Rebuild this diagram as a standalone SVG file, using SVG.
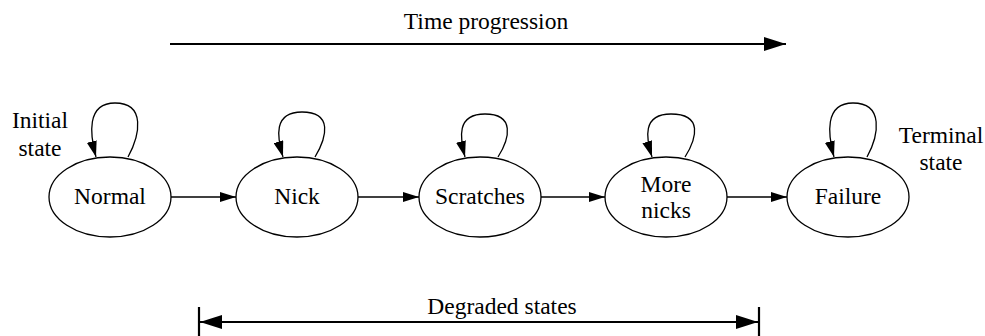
<svg xmlns="http://www.w3.org/2000/svg" width="985" height="336" viewBox="0 0 985 336">
  <style>
    .state { fill: #ffffff; stroke: #000000; stroke-width: 1.3; }
    .label { font-family: "Liberation Serif", "Times New Roman", "DejaVu Serif", serif; font-size: 23.5px; fill: #000000; text-anchor: middle; }
    .edge { fill: none; stroke: #000000; stroke-width: 1.3; }
    .axis { fill: none; stroke: #000000; stroke-width: 2.2; }
  </style>
  <defs>
    <marker id="head" viewBox="0 0 16 10" refX="16" refY="5" markerWidth="16" markerHeight="10" markerUnits="userSpaceOnUse" orient="auto">
      <path d="M0,0 L16,5 L0,10 Z" fill="#000000"/>
    </marker>
    <marker id="bighead" viewBox="0 0 22 14" refX="22" refY="7" markerWidth="22" markerHeight="14" markerUnits="userSpaceOnUse" orient="auto-start-reverse">
      <path d="M0,0 L22,7 L0,14 Z" fill="#000000"/>
    </marker>
  </defs>

  <rect x="0" y="0" width="985" height="336" fill="#ffffff"/>

  <g font-family="Liberation Serif, Times New Roman, DejaVu Serif, serif">
    <!-- time axis -->
    <g id="time-axis">
      <text class="label" x="486" y="29">Time progression</text>
      <line class="axis" x1="170" y1="44" x2="786" y2="44" marker-end="url(#bighead)"/>
    </g>

    <!-- side notes -->
    <g id="initial-note">
      <text class="label" x="40" y="128">Initial</text>
      <text class="label" x="40" y="156">state</text>
    </g>
    <g id="terminal-note">
      <text class="label" x="941" y="143">Terminal</text>
      <text class="label" x="941" y="170">state</text>
    </g>

    <!-- transitions -->
    <g id="connectors">
      <line class="edge" x1="171" y1="197" x2="236" y2="197" marker-end="url(#head)"/>
      <line class="edge" x1="358" y1="197" x2="419" y2="197" marker-end="url(#head)"/>
      <line class="edge" x1="541" y1="197" x2="605" y2="197" marker-end="url(#head)"/>
      <line class="edge" x1="727" y1="197" x2="787" y2="197" marker-end="url(#head)"/>
      <!-- self loops -->
      <path class="edge" d="M128,157 C140,135 146,103 115,103 C86,103 90,135 96,157" marker-end="url(#head)"/>
      <path class="edge" d="M315,157 C327,137 333,112 302,112 C273,112 277,137 283,157" marker-end="url(#head)"/>
      <path class="edge" d="M498,157 C510,138 515,114 485,114 C456,114 460,138 465,157" marker-end="url(#head)"/>
      <path class="edge" d="M685,157 C697,138 703,114 671,114 C642,114 646,138 652,157" marker-end="url(#head)"/>
      <path class="edge" d="M867,157 C879,135 884,103 853,103 C824,103 828,135 834,157" marker-end="url(#head)"/>
    </g>

    <!-- states -->
    <g id="normal">
      <ellipse class="state" cx="110" cy="197" rx="61" ry="40"/>
      <text class="label" x="110" y="204">Normal</text>
    </g>
    <g id="nick">
      <ellipse class="state" cx="297" cy="197" rx="61" ry="40"/>
      <text class="label" x="297" y="204">Nick</text>
    </g>
    <g id="scratches">
      <ellipse class="state" cx="480" cy="197" rx="61" ry="40"/>
      <text class="label" x="480" y="204">Scratches</text>
    </g>
    <g id="more-nicks">
      <ellipse class="state" cx="666" cy="197" rx="61" ry="40"/>
      <text class="label" x="666" y="192">More</text>
      <text class="label" x="666" y="218">nicks</text>
    </g>
    <g id="failure">
      <ellipse class="state" cx="848" cy="197" rx="61" ry="40"/>
      <text class="label" x="848" y="204">Failure</text>
    </g>

    <!-- degraded span -->
    <g id="degraded-span">
      <text class="label" x="502" y="314">Degraded states</text>
      <line class="axis" x1="199" y1="307" x2="199" y2="337"/>
      <line class="axis" x1="759" y1="307" x2="759" y2="337"/>
      <line class="axis" x1="200" y1="322" x2="758" y2="322" marker-start="url(#bighead)" marker-end="url(#bighead)"/>
    </g>
  </g>
</svg>
